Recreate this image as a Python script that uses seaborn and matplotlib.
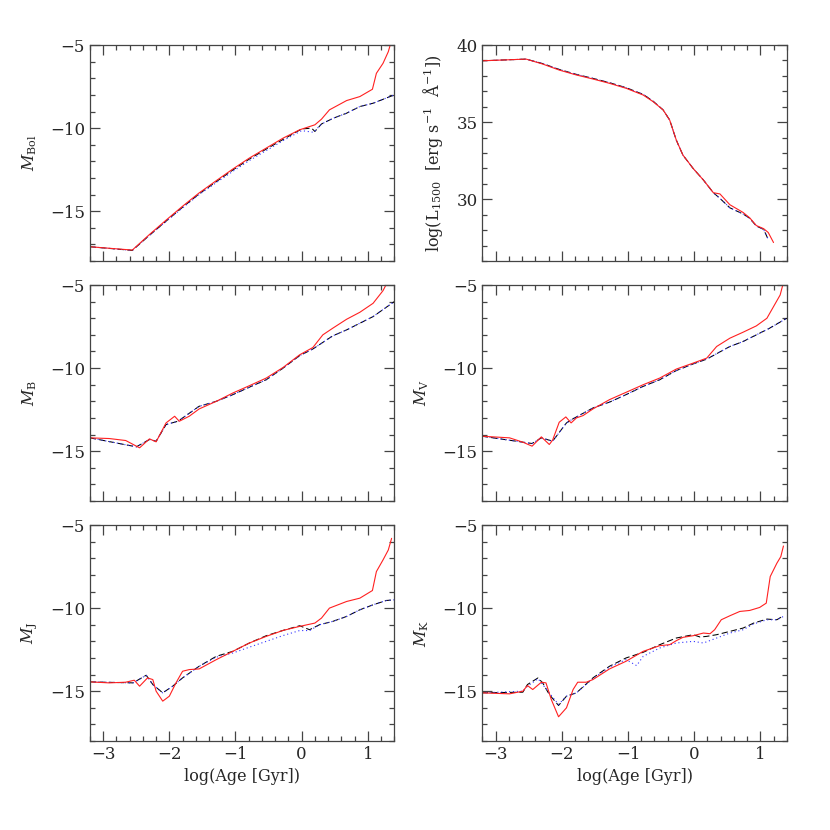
import numpy as np
import pandas as pd
import matplotlib
matplotlib.use("Agg")
import matplotlib.pyplot as plt
import seaborn as sns
from matplotlib.ticker import MultipleLocator

# ---- M_Bol ----
bol_red_x = [-3.2, -2.56, -2.30, -2.05, -1.80, -1.55, -1.29, -1.04, -0.79, -0.535, -0.28, -0.03, 0.20, 0.30, 0.42, 0.68, 0.88, 1.07, 1.13, 1.23, 1.31, 1.36]
bol_red_y = [-17.14, -17.34, -16.4, -15.54, -14.7, -13.9, -13.16, -12.46, -11.8, -11.2, -10.6, -10.1, -9.8, -9.46, -8.9, -8.34, -8.1, -7.66, -6.7, -6.1, -5.4, -4.7]
bol_blk_x = [-3.2, -2.56, -2.30, -2.05, -1.80, -1.55, -1.29, -1.04, -0.79, -0.535, -0.28, 0.0, 0.15, 0.20, 0.30, 0.48, 0.68, 0.88, 1.08, 1.4]
bol_blk_y = [-17.14, -17.36, -16.45, -15.6, -14.76, -13.96, -13.22, -12.52, -11.86, -11.26, -10.68, -10.05, -10.0, -10.2, -9.75, -9.4, -9.1, -8.7, -8.5, -8.0]
bol_blu_x = [-3.2, -2.56, -2.30, -2.05, -1.80, -1.55, -1.29, -1.04, -0.79, -0.535, -0.28, 0.0, 0.18, 0.30, 0.48, 0.68, 0.88, 1.08, 1.4]
bol_blu_y = [-17.14, -17.36, -16.45, -15.62, -14.8, -14.0, -13.28, -12.6, -11.95, -11.35, -10.75, -10.15, -10.25, -9.75, -9.4, -9.1, -8.7, -8.5, -8.0]

# ---- log L1500 ----
uv_x = [-3.21, -2.54, -2.29, -2.04, -1.78, -1.53, -1.28, -1.03, -0.77, -0.62, -0.47, -0.37, -0.27, -0.17, -0.015, 0.14, 0.29, 0.39, 0.54, 0.74, 0.84, 0.94, 1.05, 1.12, 1.2]
uv_red_y = [38.98, 39.09, 38.77, 38.38, 38.06, 37.8, 37.52, 37.2, 36.76, 36.33, 35.8, 35.14, 33.84, 32.87, 32.0, 31.25, 30.43, 30.35, 29.65, 29.15, 28.8, 28.3, 28.1, 27.85, 27.2]
uv_blk_x = [-3.21, -2.54, -2.29, -2.04, -1.78, -1.53, -1.28, -1.03, -0.77, -0.62, -0.47, -0.37, -0.27, -0.17, -0.015, 0.14, 0.29, 0.39, 0.54, 0.74, 0.84, 0.94, 1.05, 1.12]
uv_blk_y = [38.98, 39.09, 38.8, 38.42, 38.1, 37.84, 37.56, 37.24, 36.8, 36.36, 35.8, 35.14, 33.84, 32.87, 32.0, 31.25, 30.43, 30.06, 29.45, 29.05, 28.77, 28.27, 28.05, 27.4]

# ---- M_B ----
b_red_x = [-3.2, -2.91, -2.66, -2.45, -2.30, -2.2, -2.05, -1.92, -1.85, -1.70, -1.55, -1.29, -1.04, -0.79, -0.535, -0.28, -0.03, 0.17, 0.32, 0.47, 0.68, 0.88, 1.08, 1.23, 1.30]
b_red_y = [-14.2, -14.24, -14.36, -14.8, -14.26, -14.44, -13.3, -12.9, -13.2, -12.9, -12.46, -12.0, -11.5, -11.06, -10.6, -9.96, -9.2, -8.76, -8.0, -7.6, -7.06, -6.64, -6.1, -5.34, -4.8]
b_blk_x = [-3.2, -2.5, -2.3, -2.2, -2.05, -1.87, -1.55, -1.29, -1.04, -0.79, -0.535, -0.28, -0.03, 0.17, 0.47, 0.68, 0.88, 1.08, 1.4]
b_blk_y = [-14.2, -14.74, -14.3, -14.4, -13.4, -13.2, -12.3, -12.0, -11.6, -11.15, -10.7, -10.0, -9.25, -8.85, -8.06, -7.7, -7.3, -6.9, -6.0]

# ---- M_V ----
v_red_x = [-3.21, -2.79, -2.59, -2.45, -2.31, -2.19, -2.14, -2.04, -1.94, -1.86, -1.78, -1.68, -1.53, -1.28, -1.03, -0.77, -0.52, -0.27, -0.015, 0.19, 0.34, 0.54, 0.74, 0.94, 1.1, 1.2, 1.3, 1.36]
v_red_y = [-14.1, -14.2, -14.46, -14.7, -14.14, -14.6, -14.34, -13.26, -12.94, -13.3, -13.0, -12.86, -12.46, -11.9, -11.46, -11.0, -10.6, -10.06, -9.7, -9.4, -8.7, -8.2, -7.84, -7.46, -7.0, -6.3, -5.6, -4.7]
v_blk_x = [-3.21, -2.45, -2.31, -2.14, -1.93, -1.83, -1.53, -1.28, -1.03, -0.77, -0.52, -0.27, -0.015, 0.19, 0.54, 0.74, 0.94, 1.14, 1.4]
v_blk_y = [-14.1, -14.54, -14.2, -14.4, -13.3, -13.05, -12.4, -12.05, -11.6, -11.1, -10.7, -10.15, -9.75, -9.46, -8.7, -8.4, -8.0, -7.6, -7.0]

# ---- M_J ----
j_red_x = [-3.2, -2.91, -2.66, -2.53, -2.45, -2.33, -2.25, -2.2, -2.1, -2.0, -1.9, -1.8, -1.7, -1.55, -1.29, -1.04, -0.79, -0.535, -0.28, -0.03, 0.2, 0.3, 0.42, 0.68, 0.88, 1.07, 1.13, 1.23, 1.31, 1.36]
j_red_y = [-14.44, -14.5, -14.46, -14.34, -14.7, -14.2, -14.3, -15.0, -15.6, -15.3, -14.5, -13.8, -13.7, -13.66, -13.1, -12.6, -12.1, -11.7, -11.34, -11.1, -10.9, -10.6, -10.0, -9.6, -9.4, -8.94, -7.8, -7.1, -6.5, -5.8]
j_blk_x = [-3.2, -2.55, -2.48, -2.35, -2.25, -2.1, -1.95, -1.8, -1.55, -1.29, -1.04, -0.79, -0.535, -0.28, -0.03, 0.12, 0.27, 0.47, 0.68, 0.88, 1.08, 1.28, 1.4]
j_blk_y = [-14.44, -14.5, -14.34, -14.04, -14.6, -15.1, -14.7, -14.2, -13.5, -12.9, -12.6, -12.1, -11.66, -11.34, -11.06, -11.3, -11.0, -10.8, -10.5, -10.1, -9.8, -9.54, -9.5]
j_blu_y = [-14.44, -14.5, -14.34, -14.04, -14.6, -15.1, -14.7, -14.2, -13.5, -12.95, -12.7, -12.35, -12.0, -11.65, -11.35, -11.35, -11.0, -10.8, -10.5, -10.1, -9.8, -9.54, -9.5]

# ---- M_K ----
k_red_x = [-3.21, -2.79, -2.59, -2.52, -2.44, -2.31, -2.24, -2.16, -2.05, -1.93, -1.83, -1.76, -1.63, -1.53, -1.28, -1.03, -0.77, -0.52, -0.37, -0.27, -0.17, -0.015, 0.14, 0.24, 0.31, 0.41, 0.54, 0.69, 0.84, 0.99, 1.09, 1.15, 1.25, 1.31, 1.35]
k_red_y = [-15.1, -15.16, -15.0, -14.66, -14.9, -14.46, -14.5, -15.5, -16.54, -16.0, -14.9, -14.46, -14.46, -14.3, -13.66, -13.2, -12.6, -12.26, -12.2, -11.96, -11.76, -11.66, -11.5, -11.54, -11.3, -10.7, -10.46, -10.2, -10.14, -9.96, -9.7, -8.1, -7.3, -6.9, -6.26]
k_blk_x = [-3.21, -2.59, -2.52, -2.36, -2.29, -2.19, -2.05, -1.93, -1.78, -1.53, -1.28, -1.03, -0.77, -0.52, -0.27, -0.015, 0.09, 0.19, 0.34, 0.54, 0.74, 0.9, 1.1, 1.25, 1.35]
k_blk_y = [-15.1, -15.06, -14.6, -14.2, -14.5, -15.2, -15.86, -15.3, -15.1, -14.2, -13.5, -13.0, -12.66, -12.2, -11.8, -11.6, -11.74, -11.7, -11.6, -11.4, -11.2, -10.9, -10.66, -10.7, -10.46]
k_blu_x = [-3.21, -2.59, -2.52, -2.36, -2.29, -2.19, -2.05, -1.93, -1.78, -1.53, -1.28, -1.03, -0.87, -0.77, -0.52, -0.27, -0.015, 0.14, 0.34, 0.54, 0.74, 0.9, 1.1, 1.25, 1.35]
k_blu_y = [-15.1, -15.0, -14.7, -14.25, -14.6, -15.1, -15.8, -15.3, -15.1, -14.25, -13.55, -13.1, -13.46, -12.9, -12.4, -12.1, -12.0, -12.1, -11.8, -11.5, -11.3, -10.95, -10.7, -10.7, -10.5]

sns.set_style("ticks")
plt.rcParams["font.family"] = ["DejaVu Serif"]
plt.rcParams["mathtext.fontset"] = "dejavuserif"

panels = [
    (r"$M_{\rm Bol}$", (-18, -5), 5,
     (bol_blk_x, bol_blk_y), (bol_blu_x, bol_blu_y), (bol_red_x, bol_red_y)),
    (r"log(L$_{1500}$  [erg s$^{-1}$  $\rm\AA^{-1}$])", (26, 40), 5,
     (uv_blk_x, uv_blk_y), (uv_blk_x, uv_blk_y), (uv_x, uv_red_y)),
    (r"$M_{\rm B}$", (-18, -5), 5,
     (b_blk_x, b_blk_y), (b_blk_x, b_blk_y), (b_red_x, b_red_y)),
    (r"$M_{\rm V}$", (-18, -5), 5,
     (v_blk_x, v_blk_y), (v_blk_x, v_blk_y), (v_red_x, v_red_y)),
    (r"$M_{\rm J}$", (-18, -5), 5,
     (j_blk_x, j_blk_y), (j_blk_x, j_blu_y), (j_red_x, j_red_y)),
    (r"$M_{\rm K}$", (-18, -5), 5,
     (k_blk_x, k_blk_y), (k_blu_x, k_blu_y), (k_red_x, k_red_y)),
]

fig = plt.figure(figsize=(8.3, 8.3), dpi=100)
lefts = [0.1084, 0.5813]
bottoms = [0.6855, 0.3964, 0.1072]
w, h = 0.3666, 0.2602

for i, (lab, ylim, major, blk, blu, red) in enumerate(panels):
    row, col = divmod(i, 2)
    ax = fig.add_axes([lefts[col], bottoms[row], w, h])
    sns.lineplot(x=blk[0], y=blk[1], ax=ax, color="black", lw=0.75,
                 linestyle=(0, (6, 3)), sort=False, estimator=None)
    sns.lineplot(x=blu[0], y=blu[1], ax=ax, color="#3333ff", lw=0.8,
                 linestyle=(0, (1, 2.5)), sort=False, estimator=None)
    sns.lineplot(x=red[0], y=red[1], ax=ax, color="#ff2020", lw=0.8,
                 sort=False, estimator=None)
    ax.set_xlim(-3.2, 1.4)
    ax.set_ylim(*ylim)
    ax.xaxis.set_major_locator(MultipleLocator(1))
    ax.xaxis.set_minor_locator(MultipleLocator(0.2))
    ax.yaxis.set_major_locator(MultipleLocator(major))
    ax.yaxis.set_minor_locator(MultipleLocator(1))
    ax.tick_params(which="both", direction="in", top=True, right=True,
                   labelsize=12, color="#444444", width=0.9)
    ax.tick_params(which="major", length=7)
    ax.tick_params(which="minor", length=3.5)
    for s in ax.spines.values():
        s.set_linewidth(0.9)
        s.set_color("#444444")
    ax.set_ylabel(lab, fontsize=11.5, labelpad=8)
    if row == 2:
        ax.set_xlabel("log(Age [Gyr])", fontsize=11.5)
    else:
        ax.set_xlabel("")
        ax.tick_params(labelbottom=False)

fig.savefig("out.png", dpi=100)
plt.close(fig)
